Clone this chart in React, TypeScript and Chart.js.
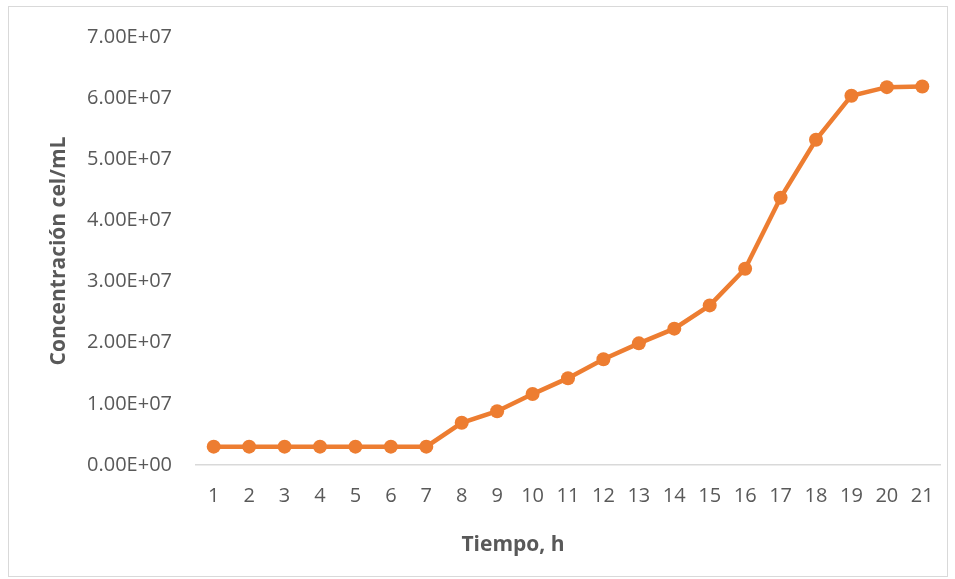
import React, { useEffect, useRef } from "react";
import { Chart, registerables } from "chart.js";

Chart.register(...registerables);

const hours = ["1","2","3","4","5","6","7","8","9","10","11","12","13","14","15","16","17","18","19","20","21"];
const concentration = [
  3.0e6, 3.0e6, 3.0e6, 3.0e6, 3.0e6, 3.0e6, 3.0e6,
  6.9e6, 8.8e6, 1.16e7, 1.42e7, 1.73e7, 1.99e7, 2.23e7,
  2.61e7, 3.21e7, 4.37e7, 5.32e7, 6.04e7, 6.18e7, 6.19e7,
];
const yMin = 0;
const yMax = 7e7;
const yStep = 1e7;
const xTitle = "Tiempo, h";
const yTitle = "Concentración cel/mL";

function sci(v: number): string {
  if (v === 0) return "0.00E+00";
  const exp = Math.floor(Math.log10(Math.abs(v)));
  const mant = v / Math.pow(10, exp);
  const sign = exp < 0 ? "-" : "+";
  const e = String(Math.abs(exp)).padStart(2, "0");
  return mant.toFixed(2) + "E" + sign + e;
}

const font = "'Open Sans', 'DejaVu Sans', sans-serif";

const xTitlePlugin = {
  id: "xTitleShifted",
  afterDraw(chart: any) {
    const { ctx } = chart;
    ctx.save();
    ctx.font = `bold 21px ${font}`;
    ctx.fillStyle = "#595959";
    ctx.textAlign = "center";
    ctx.textBaseline = "middle";
    ctx.fillText(xTitle, 513, 545);
    ctx.restore();
  },
};

export default function App() {
  const ref = useRef<HTMLCanvasElement | null>(null);
  useEffect(() => {
    document.body.style.margin = "0";
    const ctx = ref.current!;
    const chart = new Chart(ctx, {
      type: "line",
      data: {
        labels: hours,
        datasets: [
          {
            data: concentration,
            borderColor: "#ED7D31",
            backgroundColor: "#ED7D31",
            borderWidth: 4.5,
            pointRadius: 7,
            pointBackgroundColor: "#ED7D31",
            pointBorderColor: "#ED7D31",
            pointBorderWidth: 0,
            tension: 0,
          },
        ],
      },
      options: {
        animation: false,
        responsive: false,
        maintainAspectRatio: false,
        layout: { padding: { top: 37, right: 15, left: 0, bottom: 0 } },
        plugins: { legend: { display: false }, tooltip: { enabled: false } },
        scales: {
          x: {
            type: "category",
            offset: true,
            grid: { display: false, drawTicks: false },
            border: { display: true, color: "#d9d9d9", width: 1.5 },
            ticks: { color: "#595959", font: { family: font, size: 20 }, padding: 19, maxRotation: 0, autoSkip: false },
            title: { display: false, text: xTitle },
            afterFit: (s: any) => { s.height = 114; },
          },
          y: {
            min: yMin,
            max: yMax,
            grid: { display: false, drawTicks: false },
            border: { display: false },
            ticks: {
              stepSize: yStep,
              color: "#595959",
              font: { family: font, size: 20 },
              padding: 24,
              callback: (v: any) => sci(Number(v)),
            },
            title: {
              display: true,
              text: yTitle,
              color: "#595959",
              font: { family: font, size: 21, weight: "bold" },
              padding: { top: 46, bottom: 0 },
            },
            afterFit: (s: any) => { s.width = 196; },
          },
        },
      },
      plugins: [xTitlePlugin],
    });
    return () => chart.destroy();
  }, []);
  return (
    <div style={{ position: "relative", width: 955, height: 579, background: "#fff" }}>
      <div style={{ position: "absolute", left: 8, top: 6, width: 940, height: 571, boxSizing: "border-box", border: "1.5px solid #d9d9d9" }} />
      <canvas ref={ref} width={955} height={579} style={{ position: "absolute", left: 0, top: 0, width: 955, height: 579 }} />
    </div>
  );
}
